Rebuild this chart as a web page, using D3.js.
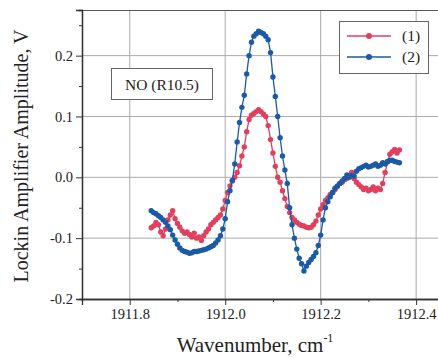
<!DOCTYPE html>
<html>
<head>
<meta charset="utf-8">
<script src="https://cdn.jsdelivr.net/npm/d3@7"></script>
<style>
  body { margin: 0; background: #fff; }
  text { font-family: "Liberation Serif", "DejaVu Serif", serif; fill: #222; }
</style>
</head>
<body>
<script>
// wavenumber grid, cm-1
var wavenumber = [
  1911.845, 1911.850, 1911.855, 1911.860, 1911.865, 1911.870, 1911.875, 1911.880, 1911.885, 1911.890,
  1911.895, 1911.900, 1911.905, 1911.910, 1911.915, 1911.920, 1911.925, 1911.930, 1911.935, 1911.940,
  1911.945, 1911.950, 1911.955, 1911.960, 1911.965, 1911.970, 1911.975, 1911.980, 1911.985, 1911.990,
  1911.995, 1912.000, 1912.005, 1912.010, 1912.015, 1912.020, 1912.025, 1912.030, 1912.035, 1912.040,
  1912.045, 1912.050, 1912.055, 1912.060, 1912.065, 1912.070, 1912.075, 1912.080, 1912.085, 1912.090,
  1912.095, 1912.100, 1912.105, 1912.110, 1912.115, 1912.120, 1912.125, 1912.130, 1912.135, 1912.140,
  1912.145, 1912.150, 1912.155, 1912.160, 1912.165, 1912.170, 1912.175, 1912.180, 1912.185, 1912.190,
  1912.195, 1912.200, 1912.205, 1912.210, 1912.215, 1912.220, 1912.225, 1912.230, 1912.235, 1912.240,
  1912.245, 1912.250, 1912.255, 1912.260, 1912.265, 1912.270, 1912.275, 1912.280, 1912.285, 1912.290,
  1912.295, 1912.300, 1912.305, 1912.310, 1912.315, 1912.320, 1912.325, 1912.330, 1912.335, 1912.340,
  1912.345, 1912.350, 1912.355, 1912.360, 1912.365
];

// series (1), V
var series1 = [
  -0.083, -0.080, -0.074, -0.078, -0.090, -0.096, -0.085, -0.070, -0.062, -0.055,
  -0.068, -0.076, -0.082, -0.088, -0.092, -0.090, -0.094, -0.098, -0.092, -0.100,
  -0.098, -0.104, -0.096, -0.090, -0.085, -0.078, -0.074, -0.070, -0.066, -0.062,
  -0.052, -0.038, -0.025, -0.014, -0.006, 0.000, 0.008, 0.019, 0.035, 0.050,
  0.075, 0.095, 0.102, 0.105, 0.108, 0.111, 0.108, 0.104, 0.100, 0.085,
  0.062, 0.040, 0.018, 0.000, -0.008, -0.022, -0.035, -0.048, -0.058, -0.066,
  -0.070, -0.074, -0.077, -0.079, -0.080, -0.082, -0.083, -0.082, -0.078, -0.072,
  -0.062, -0.052, -0.045, -0.038, -0.034, -0.028, -0.025, -0.020, -0.015, -0.010,
  -0.008, -0.004, -0.002, 0.003, 0.008, -0.002, -0.008, -0.012, -0.016, -0.020,
  -0.018, -0.022, -0.020, -0.016, -0.022, -0.018, -0.020, -0.010, 0.008, 0.025,
  0.038, 0.042, 0.046, 0.040, 0.045
];

// series (2), V
var series2 = [
  -0.055, -0.058, -0.060, -0.063, -0.066, -0.070, -0.074, -0.080, -0.086, -0.095,
  -0.103, -0.110, -0.116, -0.120, -0.122, -0.123, -0.125, -0.124, -0.122, -0.122,
  -0.121, -0.120, -0.119, -0.118, -0.116, -0.114, -0.112, -0.108, -0.103, -0.096,
  -0.085, -0.068, -0.040, -0.022, -0.005, 0.022, 0.058, 0.090, 0.115, 0.135,
  0.170, 0.200, 0.222, 0.232, 0.236, 0.240, 0.238, 0.236, 0.232, 0.226,
  0.205, 0.165, 0.133, 0.100, 0.065, 0.035, 0.012, -0.010, -0.050, -0.078,
  -0.100, -0.118, -0.133, -0.142, -0.154, -0.146, -0.140, -0.135, -0.130, -0.124,
  -0.112, -0.095, -0.070, -0.050, -0.040, -0.032, -0.025, -0.018, -0.014, -0.010,
  -0.006, -0.002, 0.004, 0.000, 0.003, 0.002, 0.010, 0.014, 0.016, 0.018,
  0.020, 0.017, 0.018, 0.020, 0.022, 0.018, 0.020, 0.024, 0.022, 0.026,
  0.028, 0.028, 0.026, 0.025, 0.024
];

var xTicks = [1911.8, 1912.0, 1912.2, 1912.4];
var xMinor = [1911.7, 1911.9, 1912.1, 1912.3];
var yTicks = [-0.2, -0.1, 0.0, 0.1, 0.2];
var yMinor = [-0.15, -0.05, 0.05, 0.15, 0.25];
var seriesNames = ['(1)', '(2)'];
var seriesColours = ['#e0405e', '#1b5aa6'];

var fmt = d => d3.format('.1f')(d).replace('\u2212', '-');

var svg = d3.select('body').append('svg')
    .attr('width', 438)
    .attr('height', 358);

var x = d3.scaleLinear().domain([1911.7, 1912.45]).range([82, 440]);
var y = d3.scaleLinear().domain([-0.2, 0.275]).range([299, 10]);

// grid
svg.append('g').selectAll('line.vg')
    .data(xTicks)
    .enter().append('line')
    .attr('x1', d => x(d)).attr('x2', d => x(d))
    .attr('y1', y.range()[1]).attr('y2', y.range()[0])
    .attr('stroke', '#aaa').attr('stroke-width', 1);

svg.append('g').selectAll('line.hg')
    .data(yTicks.slice(1))
    .enter().append('line')
    .attr('x1', x.range()[0]).attr('x2', x.range()[1])
    .attr('y1', d => y(d)).attr('y2', d => y(d))
    .attr('stroke', '#aaa').attr('stroke-width', 1);

// top frame
svg.append('line')
    .attr('x1', x.range()[0]).attr('x2', x.range()[1])
    .attr('y1', y.range()[1] + 0.5).attr('y2', y.range()[1] + 0.5)
    .attr('stroke', '#555');

// axes
var xAxis = d3.axisBottom(x).tickValues(xTicks).tickSize(6).tickPadding(4).tickFormat(fmt);
var gx = svg.append('g').attr('transform', `translate(0, ${y.range()[0]})`).call(xAxis);
svg.append('g').attr('transform', `translate(0, ${y.range()[0]})`)
    .call(d3.axisBottom(x).tickValues(xMinor).tickSize(3).tickFormat(''));

var yAxis = d3.axisLeft(y).tickValues(yTicks).tickSize(6).tickPadding(3).tickFormat(fmt);
var gy = svg.append('g').attr('transform', `translate(${x.range()[0]}, 0)`).call(yAxis);
svg.append('g').attr('transform', `translate(${x.range()[0]}, 0)`)
    .call(d3.axisLeft(y).tickValues(yMinor).tickSize(3).tickFormat(''));

svg.selectAll('g').attr('font-family', null);
svg.selectAll('.tick text')
    .attr('font-family', 'Liberation Serif')
    .style('font-size', '14.5px')
    .attr('fill', '#222');
svg.selectAll('.domain').attr('stroke', '#333').attr('stroke-width', 1.3);
svg.selectAll('.tick line').attr('stroke', '#333');

// data
var allSeries = [series1, series2];
allSeries.forEach((s, k) => {
    var pts = wavenumber.map((w, i) => [w, s[i]]);
    var line = d3.line().x(d => x(d[0])).y(d => y(d[1]));
    svg.append('path')
        .datum(pts)
        .attr('fill', 'none')
        .attr('stroke', seriesColours[k])
        .attr('stroke-width', 1.3)
        .attr('d', line);
    svg.append('g').selectAll('circle')
        .data(pts)
        .enter().append('circle')
        .attr('cx', d => x(d[0]))
        .attr('cy', d => y(d[1]))
        .attr('r', 2.7)
        .attr('fill', seriesColours[k]);
});

// annotation box
svg.append('rect')
    .attr('x', 111.5).attr('y', 68.5).attr('width', 101).attr('height', 31)
    .attr('fill', '#fff').attr('stroke', '#666');
svg.append('text')
    .attr('x', 162).attr('y', 90)
    .style('text-anchor', 'middle')
    .style('font-size', '15.5px')
    .text('NO (R10.5)');

// legend
var legend = svg.append('g');
legend.append('rect')
    .attr('x', 339.5).attr('y', 21.5).attr('width', 89).attr('height', 52)
    .attr('fill', '#fff').attr('stroke', '#666');
seriesNames.forEach((n, k) => {
    var ly = 36 + k * 21;
    legend.append('line')
        .attr('x1', 347).attr('x2', 391).attr('y1', ly).attr('y2', ly)
        .attr('stroke', seriesColours[k]).attr('stroke-width', 1.5);
    legend.append('circle')
        .attr('cx', 369).attr('cy', ly).attr('r', 3)
        .attr('fill', seriesColours[k]);
    legend.append('text')
        .attr('x', 402).attr('y', ly + 5)
        .style('font-size', '15.5px')
        .text(n);
});

// axis titles
var xt = svg.append('text')
    .attr('x', 255).attr('y', 352)
    .style('text-anchor', 'middle')
    .style('font-size', '21px');
xt.append('tspan').text('Wavenumber, cm');
xt.append('tspan').attr('dy', -10).style('font-size', '12px').text('-1');

svg.append('text')
    .attr('transform', 'translate(28, 156) rotate(-90)')
    .style('text-anchor', 'middle')
    .style('font-size', '20px')
    .text('Lockin Amplifier Amplitude, V');
</script>
</body>
</html>
